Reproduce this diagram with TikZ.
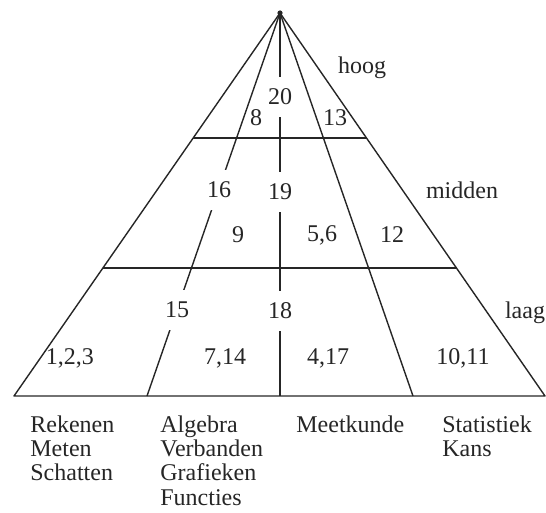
\documentclass[tikz,border=0pt]{standalone}
\usepackage{fontspec}
\setmainfont{Liberation Serif}
\usetikzlibrary{calc,positioning}
\definecolor{pyInk}{HTML}{262626}
\tikzset{
  rim/.style={draw=pyInk, line width=0.7pt, line join=round},
  lvl/.style={font=\fontsize{12}{12.2}\selectfont, text=pyInk, inner sep=1pt},
  cut/.style={lvl, fill=white, inner xsep=1.5pt, inner ysep=6pt},
  topic/.style={font=\fontsize{12}{12.2}\selectfont, text=pyInk, align=left, anchor=north west, inner sep=0pt}
}
\begin{document}
\begin{tikzpicture}[x=0.5pt,y=-0.5pt]
  \useasboundingbox (0,0) rectangle (546,513);
  \coordinate (top) at (280,13);
  \coordinate (bl) at (14,396);
  \coordinate (br) at (545,396);
  \coordinate (b1) at (147,396);
  \coordinate (b2) at (280,396);
  \coordinate (b3) at (413,396);
  % outline and level boundaries
  \draw[rim] (bl) -- (top) -- (br) -- cycle;
  \draw[rim] ($(top)!0.3264!(bl)$) -- ($(top)!0.3264!(br)$);
  \draw[rim] ($(top)!0.6658!(bl)$) -- ($(top)!0.6658!(br)$);
  \foreach \b in {b1,b2,b3}
    \draw[rim] (top) -- (\b);
  \fill[pyInk] (top) circle (2.6);
  % level names
  \node[lvl] (hoog) at (362,68) {hoog};
  \node[lvl] (midden) at (462,190) {midden};
  \node[lvl] (laag) at (525,313) {laag};
  % items, top level
  \node[cut] (n20) at (280,97) {20};
  \node[lvl] (n8) at (256,118) {8};
  \node[lvl] (n13) at (335,118) {13};
  % items, middle level
  \node[cut] (n16) at (219,190) {16};
  \node[cut] (n19) at (280,192) {19};
  \node[lvl] (n9) at (238,235) {9};
  \node[lvl] (n56) at (322,235) {5,6};
  \node[lvl] (n12) at (392,235) {12};
  % items, low level
  \node[cut] (n15) at (177,310) {15};
  \node[cut] (n18) at (280,311) {18};
  \node[lvl] (n123) at (70,358) {1,2,3};
  \node[lvl] (n714) at (225,358) {7,14};
  \node[lvl] (n417) at (328,358) {4,17};
  \node[lvl] (n1011) at (463,358) {10,11};
  % domains
  \node[topic] (rek) at (30,415) {Rekenen\\Meten\\Schatten};
  \node[topic] (alg) at (160,415) {Algebra\\Verbanden\\Grafieken\\Functies};
  \node[topic] (meet) at (296,415) {Meetkunde};
  \node[topic] (stat) at (442,415) {Statistiek\\Kans};
\end{tikzpicture}
\end{document}
